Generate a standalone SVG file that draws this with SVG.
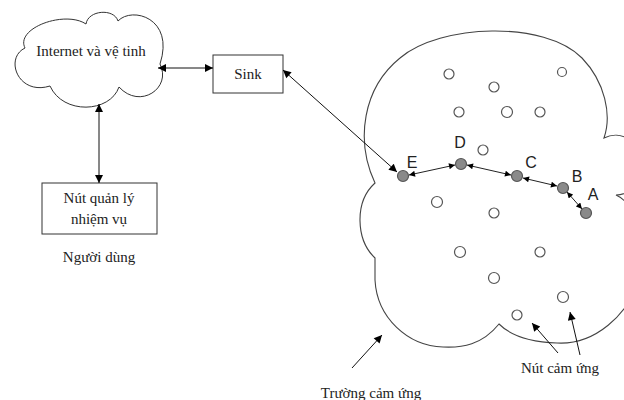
<svg xmlns="http://www.w3.org/2000/svg" width="624" height="400" viewBox="0 0 624 400">
  <style>
    .serif { font-family: "Liberation Serif", "Times New Roman", serif; font-size: 15px; fill: #222; text-anchor: middle; }
    .sans { font-family: "Liberation Sans", Arial, sans-serif; font-size: 16px; fill: #222; text-anchor: middle; }
    .outline { fill: #fff; stroke: #333; stroke-width: 1; }
    .field { fill: none; stroke: #444; stroke-width: 1.1; }
    .link { stroke: #111; stroke-width: 1; fill: none; }
    .hop { stroke: #222; stroke-width: 1; fill: none; }
    .relay { fill: #8a8a8a; stroke: #555; stroke-width: 1.2; }
    .sensor { fill: #fff; stroke: #555; stroke-width: 1.2; }
  </style>
  <defs>
    <marker id="tip" viewBox="0 0 10 10" refX="10" refY="5" markerWidth="10" markerHeight="8" markerUnits="userSpaceOnUse" orient="auto-start-reverse">
      <path d="M0,0 L10,5 L0,10 Z" fill="#000"/>
    </marker>
    <marker id="tipSmall" viewBox="0 0 10 10" refX="10" refY="5" markerWidth="7" markerHeight="6" markerUnits="userSpaceOnUse" orient="auto-start-reverse">
      <path d="M0,0 L10,5 L0,10 Z" fill="#000"/>
    </marker>
  </defs>

  <rect width="624" height="400" fill="#fff"/>

  <!-- sensing field outline -->
  <g id="sensing-field">
    <path class="field" d="M375,183 C355,140 363,88 400,58 C440,24 545,20 582,58 C605,82 612,115 604,138 C620,130 642,140 642,165 C642,185 628,195 616,195 C632,202 652,235 642,270 C630,318 592,345 557,343 C530,342 510,335 499,324 C482,345 462,348 443,347 C408,346 377,318 375,280 L375,258 C356,240 354,202 375,183 Z"/>
  </g>

  <!-- internet / satellite cloud -->
  <g id="internet">
    <path class="outline" d="M25,48 C15,28 65,10 86,24 C88,10 114,8 118,21 C132,6 175,18 160,64 C172,88 140,110 119,87 C110,113 63,115 50,86 C18,96 4,58 25,48 Z"/>
    <text class="serif" x="91" y="56">Internet và vệ tinh</text>
  </g>

  <g id="sink">
    <rect class="outline" x="213" y="55" width="70" height="38"/>
    <text class="serif" x="248" y="79">Sink</text>
  </g>

  <g id="task-manager">
    <rect class="outline" x="42" y="183" width="115" height="51"/>
    <text class="serif" x="99" y="203">Nút quản lý</text>
    <text class="serif" x="99" y="224">nhiệm vụ</text>
  </g>

  <g id="user-label">
    <text class="serif" x="99" y="262">Người dùng</text>
  </g>

  <!-- connectors -->
  <g id="connectors">
    <line class="link" x1="158" y1="68" x2="213" y2="68" marker-start="url(#tip)" marker-end="url(#tip)"/>
    <line class="link" x1="99" y1="104" x2="99" y2="183" marker-start="url(#tip)" marker-end="url(#tip)"/>
    <line class="link" x1="283" y1="70" x2="397" y2="172" marker-start="url(#tip)" marker-end="url(#tip)"/>

    <line class="hop" x1="409" y1="175" x2="455" y2="165" marker-start="url(#tipSmall)" marker-end="url(#tipSmall)"/>
    <line class="hop" x1="467" y1="165" x2="511" y2="175" marker-start="url(#tipSmall)" marker-end="url(#tipSmall)"/>
    <line class="hop" x1="523" y1="178" x2="557" y2="186" marker-start="url(#tipSmall)" marker-end="url(#tipSmall)"/>
    <line class="hop" x1="567" y1="192" x2="582" y2="209" marker-start="url(#tipSmall)" marker-end="url(#tipSmall)"/>

    <line class="link" x1="558" y1="353" x2="532" y2="323" marker-end="url(#tip)"/>
    <line class="link" x1="580" y1="355" x2="570" y2="312" marker-end="url(#tip)"/>
    <line class="link" x1="352" y1="368" x2="382" y2="335" marker-end="url(#tip)"/>
  </g>

  <!-- relay path nodes -->
  <g id="node-E"><circle class="relay" cx="403" cy="176" r="5.5"/><text class="sans" x="412" y="168">E</text></g>
  <g id="node-D"><circle class="relay" cx="461" cy="164" r="5.5"/><text class="sans" x="460" y="148">D</text></g>
  <g id="node-C"><circle class="relay" cx="517" cy="176" r="5.5"/><text class="sans" x="531" y="168">C</text></g>
  <g id="node-B"><circle class="relay" cx="563" cy="188" r="5.5"/><text class="sans" x="577" y="182">B</text></g>
  <g id="node-A"><circle class="relay" cx="586" cy="213" r="5.5"/><text class="sans" x="593" y="200">A</text></g>

  <!-- idle sensor nodes -->
  <g id="sensors">
    <circle class="sensor" cx="449" cy="74" r="5"/>
    <circle class="sensor" cx="494" cy="87" r="5"/>
    <circle class="sensor" cx="562" cy="72" r="4.5"/>
    <circle class="sensor" cx="459" cy="112" r="5"/>
    <circle class="sensor" cx="507" cy="112" r="5.5"/>
    <circle class="sensor" cx="540" cy="112" r="5"/>
    <circle class="sensor" cx="483" cy="150" r="5"/>
    <circle class="sensor" cx="437" cy="202" r="5.5"/>
    <circle class="sensor" cx="494" cy="213" r="5"/>
    <circle class="sensor" cx="460" cy="252" r="5.5"/>
    <circle class="sensor" cx="540" cy="252" r="5"/>
    <circle class="sensor" cx="494" cy="278" r="5.5"/>
    <circle class="sensor" cx="563" cy="297" r="5.5"/>
    <circle class="sensor" cx="517" cy="315" r="5"/>
  </g>

  <g id="labels">
    <text class="serif" x="560" y="373">Nút cảm ứng</text>
    <text class="serif" x="371" y="398">Trường cảm ứng</text>
  </g>
</svg>
